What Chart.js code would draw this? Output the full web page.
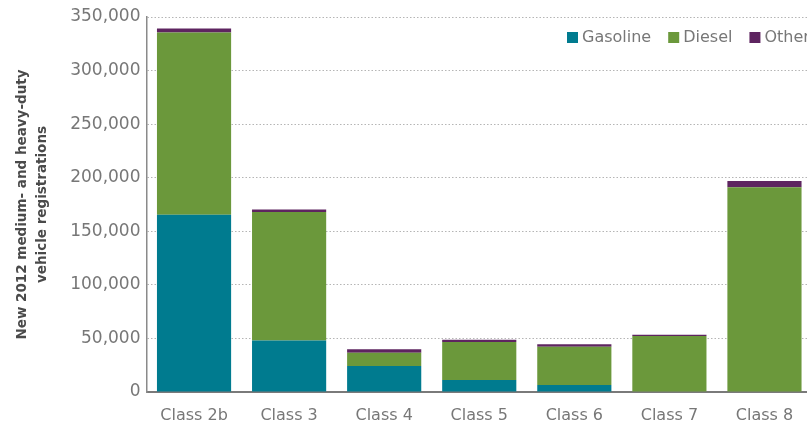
<!DOCTYPE html>
<html>
<head>
<meta charset="utf-8">
<script src="https://cdn.jsdelivr.net/npm/chart.js@4/dist/chart.umd.min.js"></script>
<style>
  html, body { margin: 0; padding: 0; background: #fff; overflow: hidden; }
  #wrap { width: 812px; height: 424px; }
</style>
</head>
<body>
<div id="wrap"><canvas id="chart" width="812" height="424"></canvas></div>
<script>
const categories = ['Class 2b', 'Class 3', 'Class 4', 'Class 5', 'Class 6', 'Class 7', 'Class 8'];
const gasoline = [165500, 48000, 24200, 11200, 6500, 0, 0];
const diesel = [170000, 119900, 12400, 35400, 35800, 52200, 191000];
const other = [3700, 2500, 3200, 2200, 2300, 1300, 6000];
const yTicks = [0, 50000, 100000, 150000, 200000, 250000, 300000, 350000];
const yTitle = ['New 2012 medium- and heavy-duty', 'vehicle registrations'];

const FONT = '"DejaVu Sans", sans-serif';

// legend drawn by hand at the top right, like the original
const topLegend = {
    id: 'topLegend',
    afterDraw(chart) {
        const ctx = chart.ctx;
        let x = 567;
        const y = 38;
        ctx.save();
        ctx.font = '16px ' + FONT;
        ctx.textBaseline = 'middle';
        chart.data.datasets.forEach(ds => {
            ctx.fillStyle = ds.backgroundColor;
            ctx.fillRect(x, y - 6, 11, 11);
            x += 15;
            ctx.fillStyle = '#777';
            ctx.fillText(ds.label, x, y);
            x += ctx.measureText(ds.label).width + 17;
        });
        ctx.restore();
    }
};

new Chart(document.getElementById('chart'), {
    type: 'bar',
    data: {
        labels: categories,
        datasets: [
            { label: 'Gasoline', data: gasoline, backgroundColor: '#007b8f' },
            { label: 'Diesel', data: diesel, backgroundColor: '#6b983b' },
            { label: 'Other', data: other, backgroundColor: '#5e2460' }
        ]
    },
    options: {
        responsive: false,
        animation: false,
        layout: { padding: { top: 17, right: 0, bottom: 0, left: 0 } },
        datasets: { bar: { categoryPercentage: 1, barPercentage: 0.78 } },
        plugins: {
            legend: { display: false },
            tooltip: { enabled: false }
        },
        scales: {
            x: {
                stacked: true,
                grid: { display: false },
                border: { color: '#7a7a7a', width: 2 },
                ticks: { color: '#777', font: { family: FONT, size: 16 }, padding: 6 },
                afterFit(scale) { scale.height = 32; }
            },
            y: {
                stacked: true,
                min: 0,
                max: 350000,
                afterBuildTicks(scale) { scale.ticks = yTicks.map(v => ({ value: v })); },
                grid: { color: '#b5b5b5', drawTicks: false, lineWidth: 1 },
                border: { color: '#8a8a8a', width: 1.5, dash: [1.5, 2] },
                ticks: {
                    color: '#777',
                    font: { family: FONT, size: 17 },
                    padding: 6,
                    callback: v => v.toLocaleString('en-US')
                },
                title: {
                    display: true,
                    text: yTitle,
                    color: '#4a4a4a',
                    font: { family: FONT, size: 13.5, weight: 'bold', lineHeight: 1.45 },
                    padding: { top: 13, bottom: 0 }
                },
                afterFit(scale) { scale.width = 146.5; }
            }
        }
    },
    plugins: [topLegend]
});
</script>
</body>
</html>
